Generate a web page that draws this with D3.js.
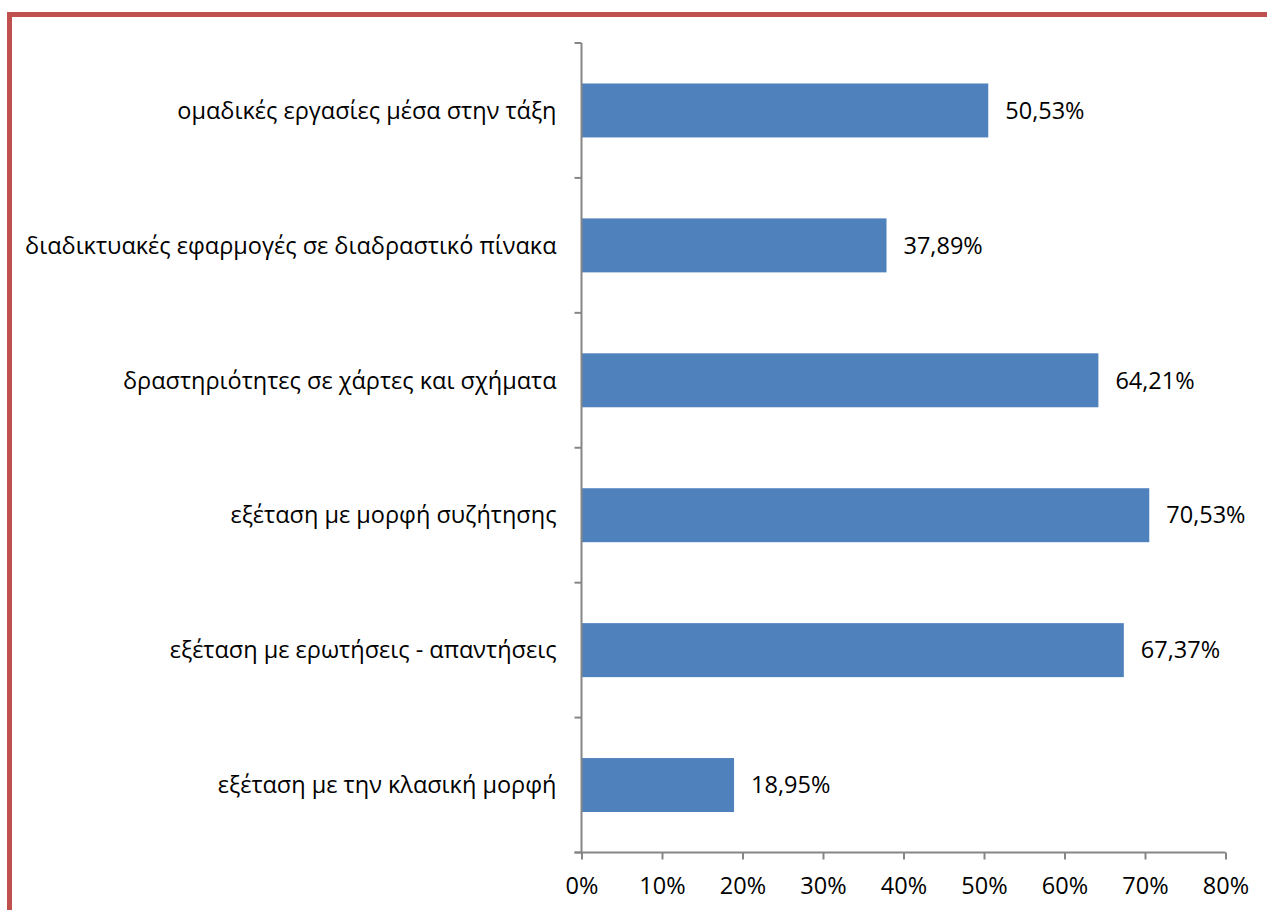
<!DOCTYPE html>
<html>
<head>
<meta charset="utf-8">
<script src="https://cdn.jsdelivr.net/npm/d3@7"></script>
<style>
  html, body { margin: 0; padding: 0; background: #ffffff; }
  svg { display: block; }
  text { font-family: "Open Sans", "Noto Sans", sans-serif; fill: #000; }
</style>
</head>
<body>
<svg id="chart" width="1267" height="910"></svg>
<script>
// Teaching / assessment practices and share of respondents
const categories = [
  "ομαδικές εργασίες μέσα στην τάξη",
  "διαδικτυακές εφαρμογές σε διαδραστικό πίνακα",
  "δραστηριότητες σε χάρτες και σχήματα",
  "εξέταση με μορφή συζήτησης",
  "εξέταση με ερωτήσεις - απαντήσεις",
  "εξέταση με την κλασική μορφή"
];
const values = [50.53, 37.89, 64.21, 70.53, 67.37, 18.95];
const valueLabels = ["50,53%", "37,89%", "64,21%", "70,53%", "67,37%", "18,95%"];
const xTicks = [0, 10, 20, 30, 40, 50, 60, 70, 80];
const xTickLabels = ["0%", "10%", "20%", "30%", "40%", "50%", "60%", "70%", "80%"];

const svg = d3.select("#chart");
const axisColor = "#868686";
const barColor = "#4F81BD";
const frameColor = "#C0504D";
const fontSize = 23.5;

const plot = { left: 581.5, right: 1225.5, top: 43, bottom: 852.5 };

const x = d3.scaleLinear().domain([0, 80]).range([plot.left, plot.right]);
const y = d3.scaleBand().domain(categories).range([plot.top, plot.bottom])
  .paddingInner(0.6).paddingOuter(0.3);
const yCells = d3.scaleBand().domain(categories).range([plot.top, plot.bottom]).padding(0);

// Frame lines on the left and top
svg.append("line").attr("x1", 9.5).attr("x2", 1267).attr("y1", 14.5).attr("y2", 14.5)
  .attr("stroke", frameColor).attr("stroke-width", 5);
svg.append("line").attr("x1", 9.5).attr("x2", 9.5).attr("y1", 12).attr("y2", 910)
  .attr("stroke", frameColor).attr("stroke-width", 5);

// Bars
svg.append("g").selectAll("rect").data(categories).join("rect")
  .attr("x", x(0))
  .attr("y", d => y(d))
  .attr("width", (d, i) => x(values[i]) - x(0))
  .attr("height", y.bandwidth())
  .attr("fill", barColor);

// Value labels
svg.append("g").selectAll("text").data(categories).join("text")
  .attr("x", (d, i) => x(values[i]) + 17)
  .attr("y", d => y(d) + y.bandwidth() / 2)
  .attr("dy", "0.35em")
  .attr("font-size", fontSize)
  .text((d, i) => valueLabels[i]);

// Vertical category axis with ticks at cell boundaries
const yAxis = svg.append("g");
yAxis.append("line").attr("x1", plot.left).attr("x2", plot.left)
  .attr("y1", plot.top).attr("y2", plot.bottom)
  .attr("stroke", axisColor).attr("stroke-width", 2);
const boundaries = categories.map(c => yCells(c)).concat([plot.bottom]);
yAxis.selectAll("line.tick").data(boundaries).join("line")
  .attr("class", "tick")
  .attr("x1", plot.left - 7).attr("x2", plot.left)
  .attr("y1", d => d).attr("y2", d => d)
  .attr("stroke", axisColor).attr("stroke-width", 2);
yAxis.selectAll("text").data(categories).join("text")
  .attr("x", plot.left - 25)
  .attr("y", d => y(d) + y.bandwidth() / 2)
  .attr("dy", "0.35em")
  .attr("text-anchor", "end")
  .attr("font-size", fontSize)
  .text(d => d);

// Horizontal percentage axis
const xAxis = svg.append("g")
  .attr("transform", `translate(0,${plot.bottom})`)
  .call(d3.axisBottom(x).tickValues(xTicks)
    .tickFormat((d, i) => xTickLabels[i])
    .tickSize(7).tickSizeOuter(0));
xAxis.select(".domain").remove();
xAxis.insert("line", ":first-child")
  .attr("x1", plot.left - 7).attr("x2", plot.right)
  .attr("y1", 0).attr("y2", 0)
  .attr("stroke", axisColor).attr("stroke-width", 2);
xAxis.selectAll(".tick line").attr("stroke", axisColor).attr("stroke-width", 2);
xAxis.selectAll(".tick text")
  .attr("font-size", fontSize)
  .attr("font-family", "\"Open Sans\", \"Noto Sans\", sans-serif")
  .attr("fill", "#000")
  .attr("y", 25);
</script>
</body>
</html>
